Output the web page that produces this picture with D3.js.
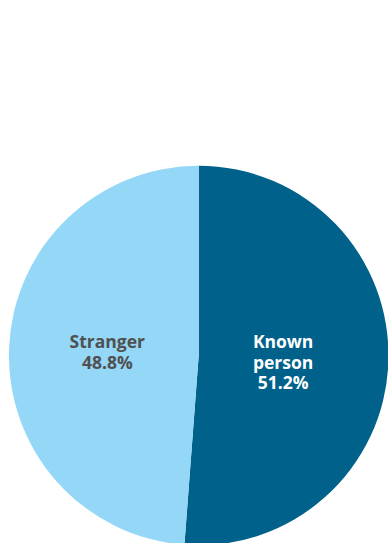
<!DOCTYPE html>
<html><head><meta charset="utf-8">
<script src="https://cdn.jsdelivr.net/npm/d3@7"></script>
<style>body{margin:0;background:#fff;} svg{display:block;}</style>
</head><body>
<svg id="chart" width="388" height="543"></svg>
<script>
const categories = ["Known person", "Stranger"];
const values = [51.2, 48.8];
const labelLines = [["Known", "person", "51.2%"], ["Stranger", "48.8%"]];
const colors = ["#00618a", "#95d7f6"];
const textColors = ["#ffffff", "#505050"];

const svg = d3.select("#chart");
const cx = 198.7, cy = 355.5, r = 189.8;
const g = svg.append("g").attr("transform", `translate(${cx},${cy})`);

const pie = d3.pie().sort(null).value(d => d)(values);
const arc = d3.arc().innerRadius(0).outerRadius(r);
const labelArc = d3.arc().innerRadius(88).outerRadius(88);

g.selectAll("path").data(pie).join("path")
  .attr("d", arc).attr("fill", (d, i) => colors[i]);

const lh = 20.7;
pie.forEach((d, i) => {
  const [x] = labelArc.centroid(d);
  labelLines[i].forEach((line, j) => {
    g.append("text")
      .attr("x", x - 3.5)
      .attr("y", -7.5 + j * lh)
      .attr("text-anchor", "middle")
      .attr("font-family", "'Open Sans', sans-serif")
      .attr("font-weight", "bold")
      .attr("font-size", "17.5px")
      .attr("fill", textColors[i])
      .text(line);
  });
});
</script>
</body></html>
